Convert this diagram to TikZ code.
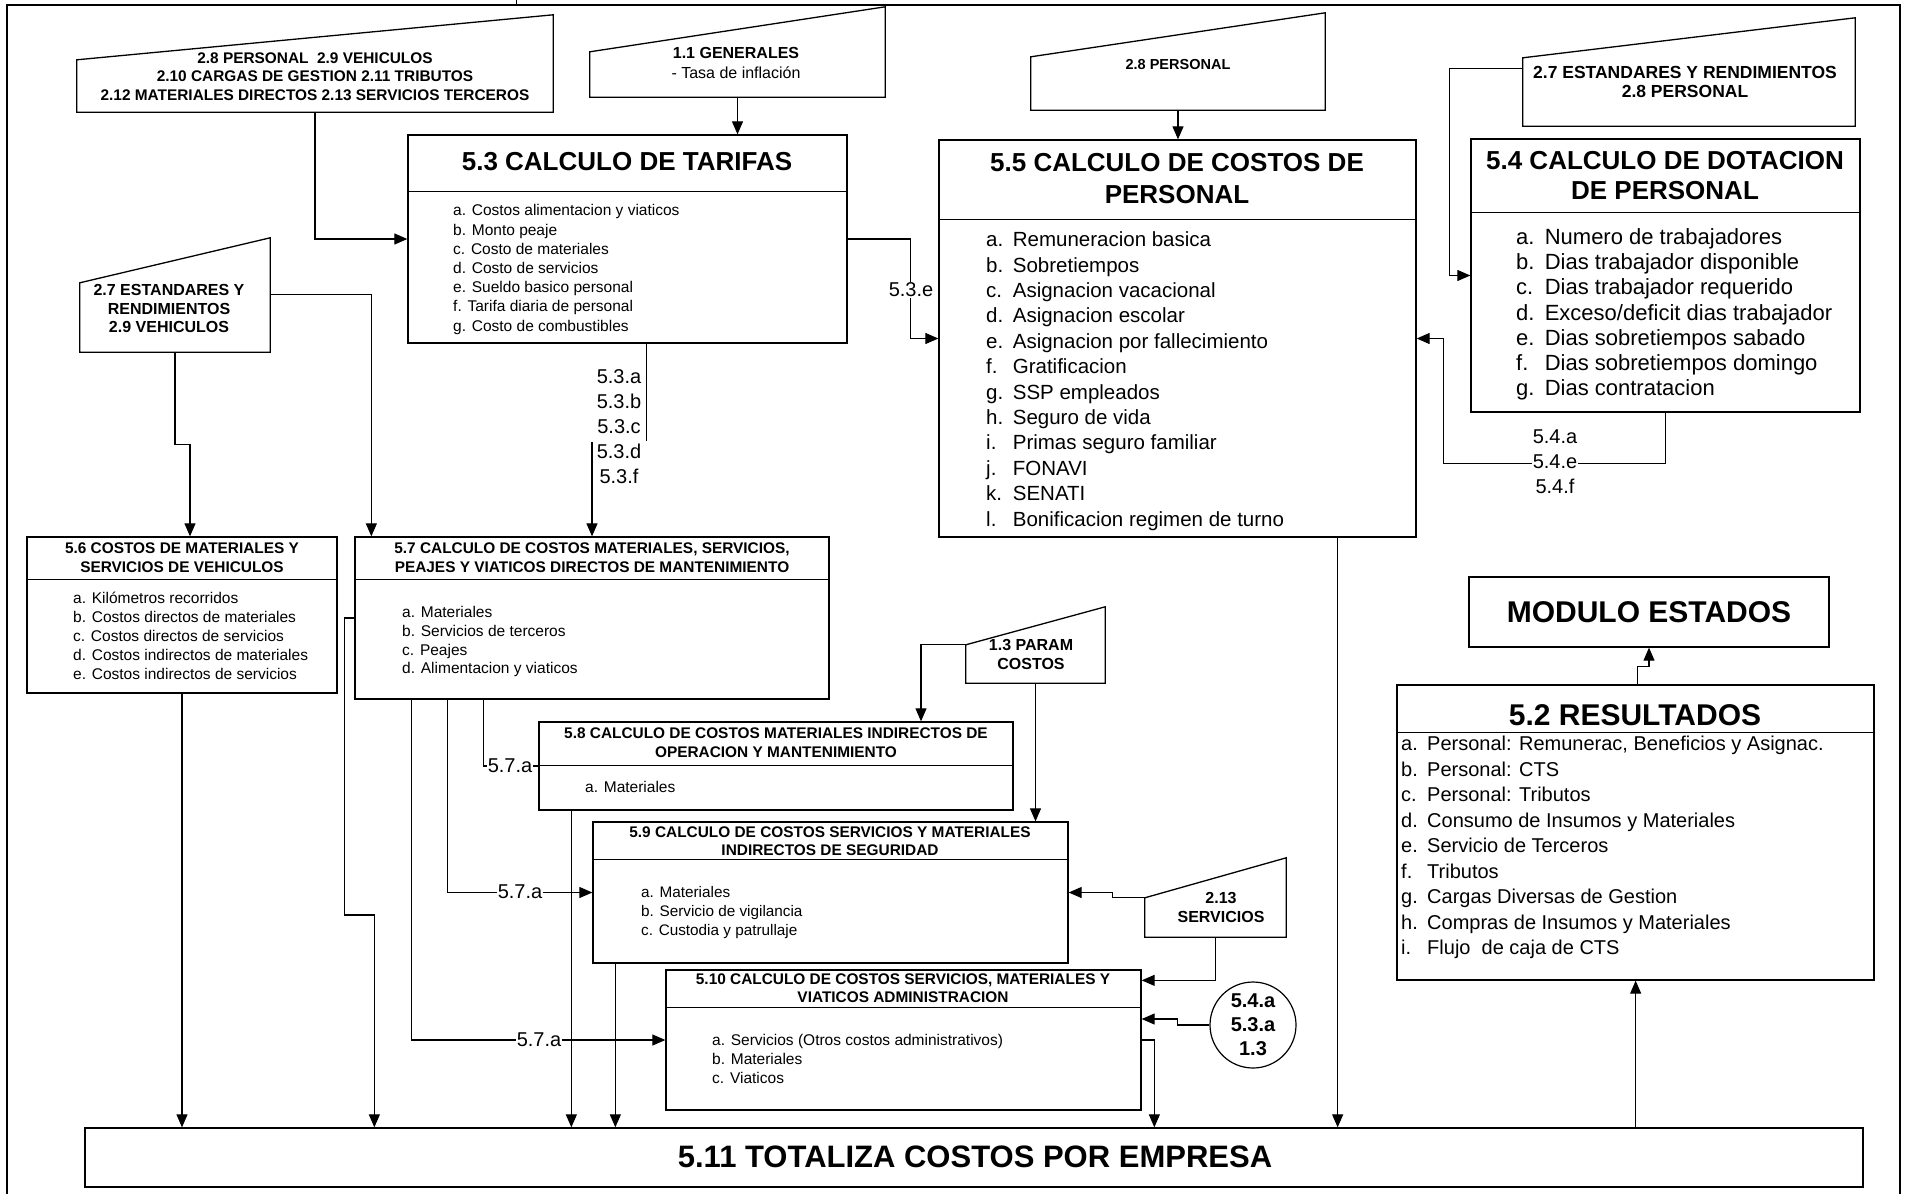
\documentclass[tikz,border=0pt]{standalone}
\usepackage{fontspec}
\setmainfont{Liberation Sans}
\usetikzlibrary{shapes,arrows,arrows.meta,positioning,fit,calc}
\newcommand{\itm}[1]{\makebox[1.3em][l]{#1}}

\begin{document}
\begin{tikzpicture}[x=1pt, y=-1pt,
  box/.style={draw, line width=1.3pt, inner sep=0pt},
  area/.style={inner sep=0pt},
  srcline/.style={line width=1.3pt, line join=miter},
  divline/.style={line width=1.3pt},
  flow/.style={line width=1.1pt, -{Triangle[length=13pt,width=11pt]}},
  link/.style={line width=1.1pt},
  big/.style={font=\fontsize{26}{32}\selectfont\bfseries, align=center},
  head/.style={font=\fontsize{15.4}{19}\selectfont\bfseries, align=center},
  src/.style={font=\fontsize{16}{18.5}\selectfont\bfseries, align=center},
  items/.style={font=\fontsize{15.5}{19}\selectfont, align=left, anchor=north west, inner sep=0pt},
  bigitems/.style={font=\fontsize{20.5}{25.4}\selectfont, align=left, anchor=north west, inner sep=0pt},
  lab/.style={font=\fontsize{20}{25}\selectfont, align=center, inner sep=1pt}
]
  \useasboundingbox (0,0) rectangle (1905,1194);
  % page frame
  \draw[line width=2pt] (7,1194) -- (7,5) -- (1900,5) -- (1900,1194);
  \draw[line width=1pt] (516,0) -- (516,5);

  % inputs
  \node[area, fit={(77,60) (553,112)}] (inA) {};
  \draw[srcline] (inA.north west) -- ($(inA.north east)+(0,-45)$) -- (inA.south east) -- (inA.south west) -- cycle;
  \node[src, font=\fontsize{15.4}{18.5}\selectfont\bfseries] (tA) at (315,76.5) {2.8 PERSONAL\ \ 2.9 VEHICULOS\\2.10 CARGAS DE GESTION 2.11 TRIBUTOS\\2.12 MATERIALES DIRECTOS 2.13 SERVICIOS TERCEROS};

  \node[area, fit={(590,52) (885,97)}] (inB) {};
  \draw[srcline] (inB.north west) -- ($(inB.north east)+(0,-45)$) -- (inB.south east) -- (inB.south west) -- cycle;
  \node[src, font=\fontsize{16}{20}\selectfont\bfseries] (tB) at (736,63) {1.1 GENERALES\\{\mdseries - Tasa de inflación}};

  \node[area, fit={(1031,57) (1325,110)}] (inC) {};
  \draw[srcline] (inC.north west) -- ($(inC.north east)+(0,-44)$) -- (inC.south east) -- (inC.south west) -- cycle;
  \node[src, font=\fontsize{14.5}{18}\selectfont\bfseries] (tC) at (1178,65) {2.8 PERSONAL};

  \node[area, fit={(1523,58) (1855,126)}] (inD) {};
  \draw[srcline] (inD.north west) -- ($(inD.north east)+(0,-40)$) -- (inD.south east) -- (inD.south west) -- cycle;
  \node[src, font=\fontsize{17.5}{19}\selectfont\bfseries] (tD) at (1685,82) {2.7 ESTANDARES Y RENDIMIENTOS\\2.8 PERSONAL};

  \node[area, fit={(80,283) (270,352)}] (inE) {};
  \draw[srcline] (inE.north west) -- ($(inE.north east)+(0,-45)$) -- (inE.south east) -- (inE.south west) -- cycle;
  \node[src] (tE) at (169,308.5) {2.7 ESTANDARES Y\\RENDIMIENTOS\\2.9 VEHICULOS};

  \node[area, fit={(966,645) (1105,683)}] (inF) {};
  \draw[srcline] (inF.north west) -- ($(inF.north east)+(0,-38)$) -- (inF.south east) -- (inF.south west) -- cycle;
  \node[src] (tF) at (1031,654.5) {1.3 PARAM\\COSTOS};

  \node[area, fit={(1145,898) (1286,937)}] (inG) {};
  \draw[srcline] (inG.north west) -- ($(inG.north east)+(0,-40)$) -- (inG.south east) -- (inG.south west) -- cycle;
  \node[src] (tG) at (1221,907.5) {2.13\\SERVICIOS};

  % process boxes
  \node[box, fit={(408,135) (847,343)}] (b53) {};
  \draw[divline] ($(b53.north west)+(0,57)$) -- ($(b53.north east)+(0,57)$);
  \node[big] (t53) at (627,162) {5.3 CALCULO DE TARIFAS};
  \node[items, font=\fontsize{15.5}{19.2}\selectfont] (l53) at (453,204.4) {a. Costos alimentacion y viaticos\\b. Monto peaje\\c. Costo de materiales\\d. Costo de servicios\\e. Sueldo basico personal\\f. Tarifa diaria de personal\\g. Costo de combustibles};

  \node[box, fit={(939,140) (1416,537)}] (b55) {};
  \draw[divline] ($(b55.north west)+(0,80)$) -- ($(b55.north east)+(0,80)$);
  \node[big] (t55) at (1177,179) {5.5 CALCULO DE COSTOS DE\\PERSONAL};
  \node[bigitems] (l55) at (986,231.6) {\itm{a.}Remuneracion basica\\\itm{b.}Sobretiempos\\\itm{c.}Asignacion vacacional\\\itm{d.}Asignacion escolar\\\itm{e.}Asignacion por fallecimiento\\\itm{f.}Gratificacion\\\itm{g.}SSP empleados\\\itm{h.}Seguro de vida\\\itm{i.}Primas seguro familiar\\\itm{j.}FONAVI\\\itm{k.}SENATI\\\itm{l.}Bonificacion regimen de turno};

  \node[box, fit={(1471,139) (1860,412)}] (b54) {};
  \draw[divline] ($(b54.north west)+(0,74)$) -- ($(b54.north east)+(0,74)$);
  \node[big, font=\fontsize{26}{30}\selectfont\bfseries] (t54) at (1665,176) {5.4 CALCULO DE DOTACION\\DE PERSONAL};
  \node[bigitems, font=\fontsize{22}{25.3}\selectfont] (l54) at (1516,228) {\itm{a.}Numero de trabajadores\\\itm{b.}Dias trabajador disponible\\\itm{c.}Dias trabajador requerido\\\itm{d.}Exceso/deficit dias trabajador\\\itm{e.}Dias sobretiempos sabado\\\itm{f.}Dias sobretiempos domingo\\\itm{g.}Dias contratacion};

  \node[box, fit={(1469,577) (1829,647)}] (bmod) {};
  \node[big, font=\fontsize{30}{36}\selectfont\bfseries] (tmod) at (1649,612) {MODULO ESTADOS};

  \node[box, fit={(1397,685) (1874,980)}] (b52) {};
  \draw[divline] ($(b52.north west)+(0,48)$) -- ($(b52.north east)+(0,48)$);
  \node[big, font=\fontsize{30}{36}\selectfont\bfseries] (t52) at (1635,715) {5.2 RESULTADOS};
  \node[bigitems, font=\fontsize{20}{25.5}\selectfont] (l52) at (1401,735.8) {\itm{a.}Personal: Remunerac, Beneficios y Asignac.\\\itm{b.}Personal: CTS\\\itm{c.}Personal: Tributos\\\itm{d.}Consumo de Insumos y Materiales\\\itm{e.}Servicio de Terceros\\\itm{f.}Tributos\\\itm{g.}Cargas Diversas de Gestion\\\itm{h.}Compras de Insumos y Materiales\\\itm{i.}Flujo\ \ de caja de CTS};

  \node[box, fit={(27,537) (337,693)}] (b56) {};
  \draw[divline] ($(b56.north west)+(0,43)$) -- ($(b56.north east)+(0,43)$);
  \node[head] (t56) at (182,557.5) {5.6 COSTOS DE MATERIALES Y\\SERVICIOS DE VEHICULOS};
  \node[items] (l56) at (73,591.4) {a. Kilómetros recorridos\\b. Costos directos de materiales\\c. Costos directos de servicios\\d. Costos indirectos de materiales\\e. Costos indirectos de servicios};

  \node[box, fit={(355,537) (829,699)}] (b57) {};
  \draw[divline] ($(b57.north west)+(0,43)$) -- ($(b57.north east)+(0,43)$);
  \node[head] (t57) at (592,557.5) {5.7 CALCULO DE COSTOS MATERIALES, SERVICIOS,\\PEAJES Y VIATICOS DIRECTOS DE MANTENIMIENTO};
  \node[items, font=\fontsize{15.5}{18.7}\selectfont] (l57) at (402,606.4) {a. Materiales\\b. Servicios de terceros\\c. Peajes\\d. Alimentacion y viaticos};

  \node[box, fit={(539,722) (1013,810)}] (b58) {};
  \draw[divline] ($(b58.north west)+(0,44)$) -- ($(b58.north east)+(0,44)$);
  \node[head] (t58) at (776,742.5) {5.8 CALCULO DE COSTOS MATERIALES INDIRECTOS DE\\OPERACION Y MANTENIMIENTO};
  \node[items] (l58) at (585,781.4) {a. Materiales};

  \node[box, fit={(593,822) (1068,963)}] (b59) {};
  \draw[divline] ($(b59.north west)+(0,38)$) -- ($(b59.north east)+(0,38)$);
  \node[head, font=\fontsize{15.4}{18}\selectfont\bfseries] (t59) at (830,841) {5.9 CALCULO DE COSTOS SERVICIOS Y MATERIALES\\INDIRECTOS DE SEGURIDAD};
  \node[items, font=\fontsize{15.3}{19}\selectfont] (l59) at (641,886.5) {a. Materiales\\b. Servicio de vigilancia\\c. Custodia y patrullaje};

  \node[box, fit={(666,970) (1141,1110)}] (b510) {};
  \draw[divline] ($(b510.north west)+(0,38)$) -- ($(b510.north east)+(0,38)$);
  \node[head, font=\fontsize{15.4}{18}\selectfont\bfseries] (t510) at (903,988) {5.10 CALCULO DE COSTOS SERVICIOS, MATERIALES Y\\VIATICOS ADMINISTRACION};
  \node[items] (l510) at (712,1034.4) {a. Servicios (Otros costos administrativos)\\b. Materiales\\c. Viaticos};

  \node[box, fit={(85,1128) (1863,1187)}] (b511) {};
  \node[big, font=\fontsize{31}{36}\selectfont\bfseries] (t511) at (975,1157) {5.11 TOTALIZA COSTOS POR EMPRESA};

  \node[draw, circle, line width=1.2pt, minimum size=86pt, inner sep=0pt, font=\fontsize{20}{24}\selectfont\bfseries, align=center] (cref) at (1253,1025) {5.4.a\\5.3.a\\1.3};

  % connectors
  \coordinate (s55) at ($(b55.south east)+(-79,0)$);
  \coordinate (s58) at ($(b58.south west)+(33,0)$);
  \coordinate (s59) at ($(b59.south west)+(23,0)$);
  \coordinate (s511) at ($(b511.north east)+(-228,0)$);

  \draw[flow] (inA.south) |- (b53.west);
  \draw[flow] (inB.south) -- (inB.south |- b53.north);
  \draw[flow] (inC.south) -- (inC.south |- b55.north);
  \draw[flow] ($(inD.north west)+(0,11)$) -| ($(b54.west)+(-21,0)$) -- (b54.west);
  \draw[flow] (b54.south) -- ++(0,51) -| ($(b55.east)+(27,0)$) -- (b55.east);
  \draw[flow] (b53.east) -| ($(b55.west)+(-28,0)$) -- (b55.west);
  \draw[link] ($(b53.south)+(19,0)$) -- ++(0,97);
  \draw[flow] ($(b57.north)+(0,-94)$) -- (b57.north);
  \draw[flow] ($(inE.north east)+(0,12)$) -| ($(b57.north west)+(17,0)$);
  \draw[flow] (inE.south) -- ++(0,92) -| ($(b56.north)+(8,0)$);
  \draw[flow] (b56.south) -- (b56.south |- b511.north);
  \draw[flow] (b57.west) -- ++(-10,0) |- ++(30,297) coordinate (j57) -- (j57 |- b511.north);
  \draw[link] ($(b57.south west)+(129,0)$) |- (b58.west);
  \draw[flow] ($(b57.south west)+(93,0)$) |- (b59.west);
  \draw[flow] ($(b57.south west)+(57,0)$) |- (b510.west);
  \draw[flow] (s58) -- (s58 |- b511.north);
  \draw[flow] (s59) -- (s59 |- b511.north);
  \draw[flow] (inF.north west) -| ($(b58.north)+(145,0)$);
  \draw[flow] (inF.south) -- (inF.south |- b59.north);
  \draw[flow] (inG.north west) -- ++(-32,0) |- (b59.east);
  \draw[flow] (inG.south) |- ($(b510.north east)+(0,11)$);
  \draw[flow] (cref.west) -- ++(-32,0) |- ($(b510.east)+(0,-21)$);
  \draw[flow] (b510.east) -| ($(b511.north west)+(1070,0)$);
  \draw[flow] (s55) -- (s55 |- b511.north);
  \draw[flow] (s511) -- (s511 |- b52.south);
  \draw[flow] ($(b52.north)+(2,0)$) -- ++(0,-18) -| (bmod.south);

  % connector labels
  \node[lab] (c53) at (619,427) {5.3.a\\5.3.b\\5.3.c\\5.3.d\\5.3.f};
  \node[lab, fill=white] (c53e) at (911,290) {5.3.e};
  \node[lab, fill=white] (c54) at (1555,462) {5.4.a\\5.4.e\\5.4.f};
  \node[lab, fill=white] (c578) at (510,766) {5.7.a};
  \node[lab, fill=white] (c579) at (520,892) {5.7.a};
  \node[lab, fill=white] (c5710) at (539,1040) {5.7.a};
\end{tikzpicture}
\end{document}
